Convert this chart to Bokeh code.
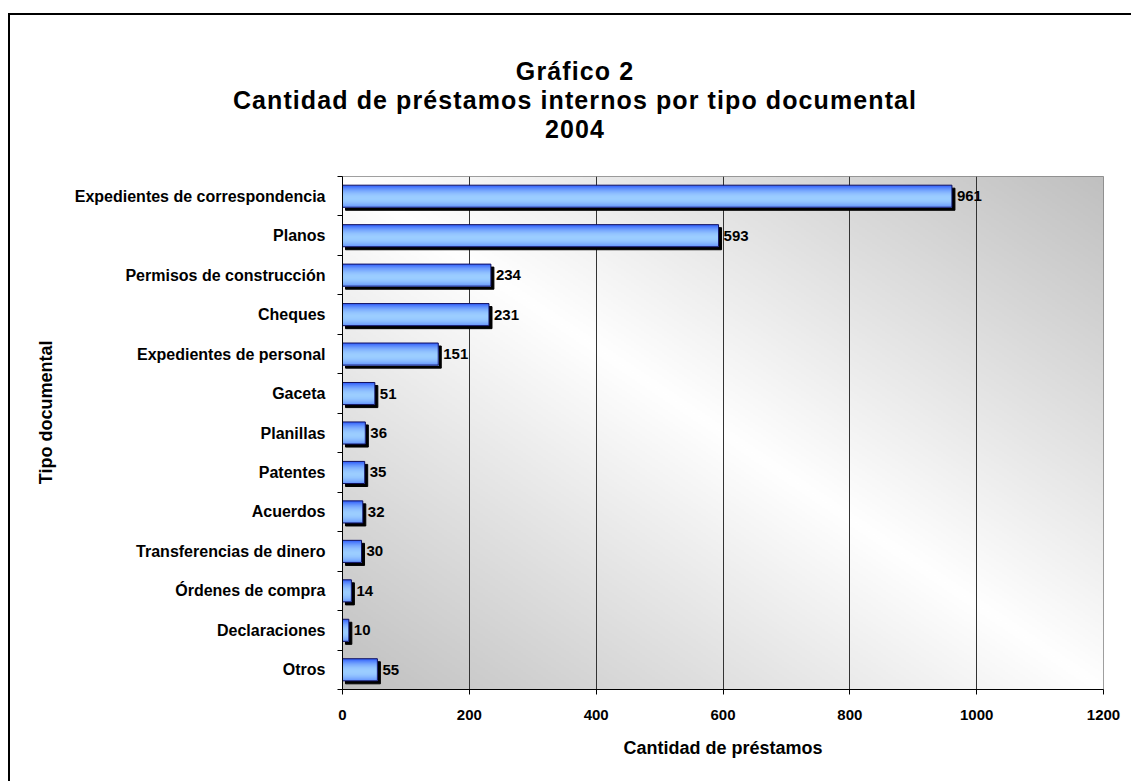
import numpy as np
from bokeh.plotting import figure
from bokeh.models import Range1d, FixedTicker, Div, Title
from bokeh.layouts import column
from bokeh.core.properties import value
from bokeh.embed import file_html
from bokeh.resources import INLINE

# ---------------- data ----------------
title_lines = ["Gráfico 2", "Cantidad de préstamos internos por tipo documental", "2004"]
categories = [
    "Expedientes de correspondencia",
    "Planos",
    "Permisos de construcción",
    "Cheques",
    "Expedientes de personal",
    "Gaceta",
    "Planillas",
    "Patentes",
    "Acuerdos",
    "Transferencias de dinero",
    "Órdenes de compra",
    "Declaraciones",
    "Otros",
]
values = [961, 593, 234, 231, 151, 51, 36, 35, 32, 30, 14, 10, 55]
x_ticks = [0, 200, 400, 600, 800, 1000, 1200]
x_label = "Cantidad de préstamos"
y_label = "Tipo documental"

# ---------------- layout ----------------
FONT = "Liberation Sans"
W = 1121
TITLE_H = 140
H = 626
ML, MR, MT, MB = 332, 28, 21, 92
FW, FH = W - ML - MR, H - MT - MB
n = len(categories)
xmax = x_ticks[-1]
ys = [n - i for i in range(n)]  # first category on top

p = figure(width=W, height=H, x_range=Range1d(0, xmax), y_range=Range1d(0.5, n + 0.5),
           output_backend="svg", toolbar_location=None, margin=0,
           min_border_left=ML, min_border_right=MR, min_border_top=MT, min_border_bottom=MB)
p.border_fill_color = "white"
p.outline_line_color = "#808080"
p.outline_line_width = 1

# ---------------- background gradient (diagonal, white band) ----------------
N = 300
U, Vr = np.meshgrid(np.linspace(0, 1, N), np.linspace(0, 1, N))
Vtop = 1 - Vr  # row 0 is at the bottom
g = (255 - 63 * np.abs(U - Vtop)).astype(np.uint8)
img = np.empty((N, N), dtype=np.uint32)
view = img.view(dtype=np.uint8).reshape((N, N, 4))
view[..., 0] = g
view[..., 1] = g
view[..., 2] = g
view[..., 3] = 255
p.image_rgba(image=[img], x=0, y=0.5, dw=xmax, dh=n, level="image")

# ---------------- grid / axes ----------------
p.xaxis.ticker = FixedTicker(ticks=x_ticks)
p.xgrid.ticker = FixedTicker(ticks=x_ticks[1:-1])
p.xgrid.grid_line_color = "#333333"
p.xgrid.grid_line_width = 1
p.ygrid.visible = False

p.xaxis.axis_line_color = "black"
p.xaxis.major_tick_line_color = "black"
p.xaxis.major_tick_out = 5
p.xaxis.major_tick_in = 0
p.xaxis.minor_tick_line_color = None
p.xaxis.major_label_text_font = FONT
p.xaxis.major_label_text_font_style = "bold"
p.xaxis.major_label_text_font_size = "15px"
p.xaxis.major_label_text_color = "black"
p.xaxis.major_label_standoff = 15
p.xaxis.axis_label = x_label
p.xaxis.axis_label_text_font = FONT
p.xaxis.axis_label_text_font_style = "bold"
p.xaxis.axis_label_text_font_size = "18px"
p.xaxis.axis_label_text_color = "black"
p.xaxis.axis_label_standoff = 15

p.yaxis.ticker = FixedTicker(ticks=ys, minor_ticks=[k + 0.5 for k in range(n + 1)])
p.yaxis.major_label_overrides = {y: c for y, c in zip(ys, categories)}
p.yaxis.axis_line_color = "black"
p.yaxis.major_tick_out = 0
p.yaxis.major_tick_in = 0
p.yaxis.minor_tick_out = 5
p.yaxis.minor_tick_in = 0
p.yaxis.minor_tick_line_color = "black"
p.yaxis.major_label_text_font = FONT
p.yaxis.major_label_text_font_style = "bold"
p.yaxis.major_label_text_font_size = "16px"
p.yaxis.major_label_text_color = "black"
p.yaxis.major_label_standoff = 12

# y-axis title, placed toward the upper part like the reference
p.add_layout(Title(text=y_label, align="right", offset=164, standoff=32,
                   text_font=FONT, text_font_style="bold", text_font_size="18px",
                   text_color="black"), "left")

# ---------------- bars ----------------
bar_h = 0.56
px_x = FW / xmax
px_y = FH / n
sdx, sdy = 3 / px_x, 3 / px_y

# shadow
p.hbar(y=[y - sdy for y in ys], left=sdx, right=[v + sdx for v in values], height=bar_h,
       fill_color="black", line_color="black")

# cylinder-like gradient: cumulative bands (each from its top edge to bar bottom)
dark = np.array([45, 90, 250])
light = np.array([155, 205, 255])
NB = 22
for k in range(NB):
    t = (k + 0.5) / NB
    f = max(0.0, 1 - ((t - 0.58) / 0.58) ** 2)
    c = dark + (light - dark) * f
    col = "#%02x%02x%02x" % tuple(int(round(x)) for x in c)
    hk = bar_h * (NB - k) / NB
    yk = [y - bar_h / 2 + hk / 2 for y in ys]
    p.hbar(y=yk, left=0, right=values, height=hk, fill_color=col, line_color=None)

p.hbar(y=ys, left=0, right=values, height=bar_h, fill_color=None,
       line_color="#101060", line_width=1)

p.text(x=values, y=ys, text=[str(v) for v in values], x_offset=5,
       text_align="left", text_baseline="middle", text_font=value(FONT),
       text_font_style="bold", text_font_size="15px", text_color="black")

# ---------------- title ----------------
title_html = "<br>".join(title_lines)
title = Div(text=title_html, width=W, height=TITLE_H, margin=0,
            styles={"text-align": "center", "font-family": "'Liberation Sans', Arial, sans-serif",
                    "font-weight": "bold", "font-size": "25px", "line-height": "29px",
                    "letter-spacing": "1.1px",
                    "color": "black", "padding-top": "42px", "padding-left": "9px",
                    "box-sizing": "border-box", "width": "%dpx" % W})

layout = column(title, p, margin=(13, 0, 0, 8),
                styles={"border-top": "2px solid black", "border-left": "2px solid black"})

open("out.html", "w").write(file_html(layout, INLINE))
